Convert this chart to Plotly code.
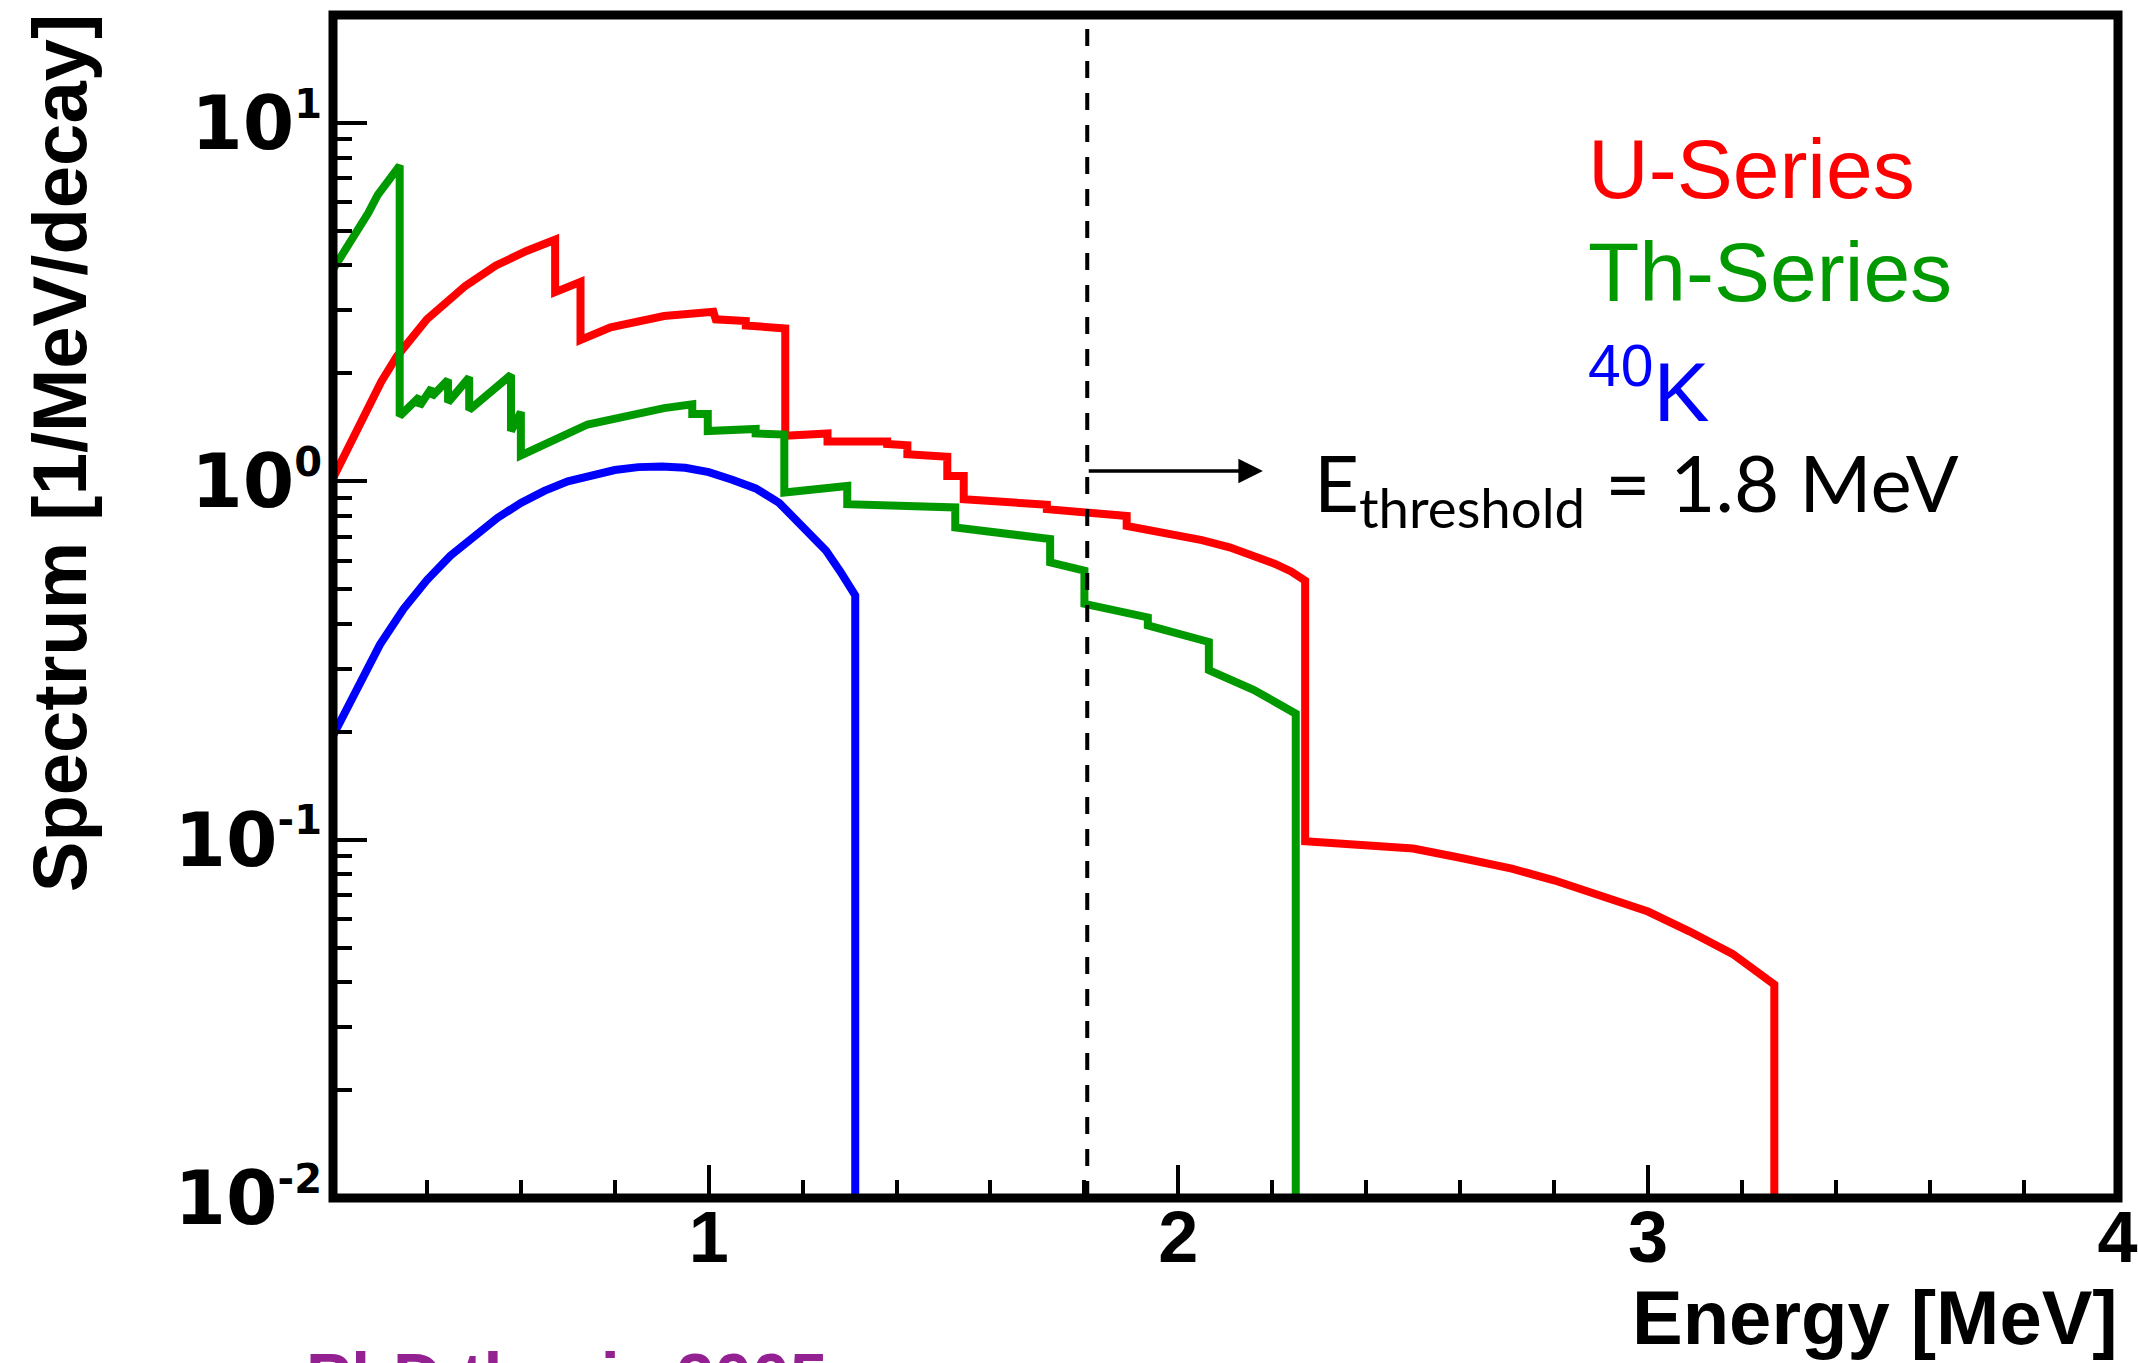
import math
import plotly.graph_objects as go

# ---------------- data ----------------
u_energy = [0.2, 0.254, 0.303, 0.336, 0.40, 0.482, 0.547, 0.612, 0.673, 0.673, 0.727, 0.727,
            0.791, 0.905, 1.010, 1.015, 1.079, 1.079, 1.163, 1.163, 1.253, 1.253, 1.38, 1.38,
            1.423, 1.423, 1.508, 1.508, 1.543, 1.543, 1.72, 1.72, 1.89, 1.89, 2.0, 2.05, 2.109,
            2.16, 2.206, 2.24, 2.27, 2.27, 2.40, 2.50, 2.60, 2.71, 2.80, 2.90, 3.0, 3.089,
            3.18, 3.269, 3.269]
u_spectrum = [1.02, 1.42, 1.90, 2.23, 2.83, 3.51, 4.0, 4.39, 4.72, 3.37, 3.6, 2.48,
              2.69, 2.89, 2.97, 2.83, 2.80, 2.72, 2.67, 1.34, 1.36, 1.29, 1.29, 1.27,
              1.26, 1.19, 1.17, 1.035, 1.035, 0.891, 0.86, 0.836, 0.80, 0.751, 0.711, 0.685, 0.654,
              0.622, 0.588, 0.56, 0.528, 0.099, 0.097, 0.0944, 0.089, 0.083, 0.077, 0.070, 0.063,
              0.0554, 0.048, 0.0394, 0.01]

th_energy = [0.2, 0.225, 0.254, 0.275, 0.295, 0.32, 0.342, 0.342, 0.384, 0.384, 0.41, 0.41,
             0.445, 0.445, 0.49, 0.49, 0.579, 0.579, 0.60, 0.60, 0.742, 0.905, 0.965, 0.965,
             0.998, 0.998, 1.10, 1.10, 1.161, 1.161, 1.295, 1.295, 1.525, 1.525, 1.727, 1.727,
             1.80, 1.80, 1.935, 1.935, 2.065, 2.065, 2.16, 2.25, 2.25]
th_spectrum = [3.9, 4.4, 4.95, 5.6, 6.29, 6.9, 7.6, 1.52, 1.72, 1.62, 1.82, 1.72,
               1.92, 1.66, 1.95, 1.58, 1.98, 1.38, 1.56, 1.18, 1.44, 1.60, 1.64, 1.54,
               1.54, 1.38, 1.40, 1.36, 1.35, 0.93, 0.97, 0.863, 0.845, 0.743, 0.69, 0.594,
               0.563, 0.455, 0.417, 0.396, 0.356, 0.297, 0.262, 0.2246, 0.01]

k_energy = [0.2, 0.25, 0.30, 0.35, 0.40, 0.45, 0.50, 0.55, 0.60, 0.65, 0.70, 0.75, 0.80,
            0.85, 0.90, 0.95, 1.00, 1.05, 1.10, 1.15, 1.20, 1.25, 1.28, 1.30, 1.312, 1.312]
k_spectrum = [0.195, 0.262, 0.35, 0.44, 0.53, 0.62, 0.70, 0.79, 0.87, 0.94, 1.0, 1.04, 1.075,
              1.095, 1.10, 1.09, 1.06, 1.01, 0.955, 0.87, 0.75, 0.64, 0.56, 0.50, 0.48, 0.01]

threshold = 1.806
arrow_end = 2.18
arrow_level = 1.068

x_tick_vals = [1, 2, 3, 4]
y_tick_vals = [0.01, 0.1, 1, 10]
y_tick_exps = ["-2", "-1", "0", "1"]
y_minor_vals = [m * 10.0 ** e for e in (-2, -1, 0, 1) for m in range(2, 10)]

RED, GREEN, BLUE = "#ff0000", "#009900", "#0000ff"
LW = 8
SANS = "Arial, Liberation Sans, sans-serif"

fig = go.Figure()
fig.add_trace(go.Scatter(x=u_energy, y=u_spectrum, mode="lines",
                         line=dict(color=RED, width=LW), name="U-Series"))
fig.add_trace(go.Scatter(x=k_energy, y=k_spectrum, mode="lines",
                         line=dict(color=BLUE, width=LW), name="40K"))
fig.add_trace(go.Scatter(x=th_energy, y=th_spectrum, mode="lines",
                         line=dict(color=GREEN, width=LW), name="Th-Series"))

sup_style = "font-size:40px"
y_tick_text = ["10<sup><span style='%s'>%s</span></sup>" % (sup_style, e) for e in y_tick_exps]

fig.update_layout(
    width=2138, height=1363,
    margin=dict(l=333, r=20, t=14.5, b=165, autoexpand=False),
    paper_bgcolor="white", plot_bgcolor="white",
    showlegend=False,
    xaxis=dict(range=[0.2, 4.0008], showgrid=False, zeroline=False, showline=False,
               tickmode="array", tickvals=x_tick_vals, ticktext=[str(v) for v in x_tick_vals],
               ticks="inside", ticklen=33, tickwidth=3.5, tickcolor="black",
               tickfont=dict(family=SANS, size=72, color="black", weight="bold"),
               ticklabelstandoff=-9,
               minor=dict(tickmode="linear", tick0=0, dtick=0.2, ticks="inside", ticklen=18,
                          tickwidth=3.5, tickcolor="black", showgrid=False)),
    yaxis=dict(type="log", range=[-2, 1.301], showgrid=False, zeroline=False, showline=False,
               tickmode="array", tickvals=y_tick_vals, ticktext=y_tick_text,
               ticks="inside", ticklen=34, tickwidth=3.5, tickcolor="black",
               tickfont=dict(family="DejaVu Sans", size=74, color="black", weight="bold"),
               ticklabelstandoff=10,
               minor=dict(tickmode="array", tickvals=y_minor_vals, ticks="inside", ticklen=19,
                          tickwidth=3.5, tickcolor="black", showgrid=False)),
)

# frame
fig.add_shape(type="rect", xref="paper", yref="paper", x0=0, x1=1, y0=0, y1=1,
              line=dict(color="black", width=9), layer="above")
# threshold line
fig.add_shape(type="line", xref="x", yref="paper", x0=threshold, x1=threshold, y0=0, y1=0.99,
              line=dict(color="black", width=4, dash="17px,15px"))
# arrow
fig.add_annotation(x=arrow_end, y=math.log10(arrow_level),
                   ax=threshold, ay=math.log10(arrow_level),
                   xref="x", yref="y", axref="x", ayref="y", text="", showarrow=True,
                   arrowhead=2, arrowsize=1.4, arrowwidth=3.5, arrowcolor="black")

fig.add_annotation(x=0.702, y=0.8695, xref="paper", yref="paper", xanchor="left", yanchor="middle",
                   text="U-Series", showarrow=False,
                   font=dict(family=SANS, size=84, color=RED))
fig.add_annotation(x=0.702, y=0.783, xref="paper", yref="paper", xanchor="left", yanchor="middle",
                   text="Th-Series", showarrow=False,
                   font=dict(family=SANS, size=84, color=GREEN))
fig.add_annotation(x=0.702, y=0.686, xref="paper", yref="paper", xanchor="left", yanchor="middle",
                   text="<sup>40</sup>K", showarrow=False,
                   font=dict(family=SANS, size=84, color=BLUE))
fig.add_annotation(x=0.5485, y=0.6005, xref="paper", yref="paper", xanchor="left", yanchor="middle",
                   text="E<sub>threshold</sub> = 1.8 MeV", showarrow=False,
                   font=dict(family="Lato", size=78, color="black"))

# axis titles
fig.add_annotation(x=1.001, y=-0.1014, xref="paper", yref="paper", xanchor="right", yanchor="middle",
                   text="Energy [MeV]", showarrow=False,
                   font=dict(family=SANS, size=76, color="black", weight="bold"))
fig.add_annotation(x=-0.1535, y=0.6295, xref="paper", yref="paper", xanchor="center", yanchor="middle",
                   text="Spectrum [1/MeV/decay]", textangle=-90, showarrow=False,
                   font=dict(family=SANS, size=76, color="black", weight="bold"))

# footer (cut off at the bottom edge in the original)
fig.add_annotation(x=-0.016, y=-0.1175, xref="paper", yref="paper", xanchor="left", yanchor="top",
                   text="PhD thesis 2005", showarrow=False,
                   font=dict(family=SANS, size=68, color="#942191", weight="bold"))

fig.write_html("out.html")
